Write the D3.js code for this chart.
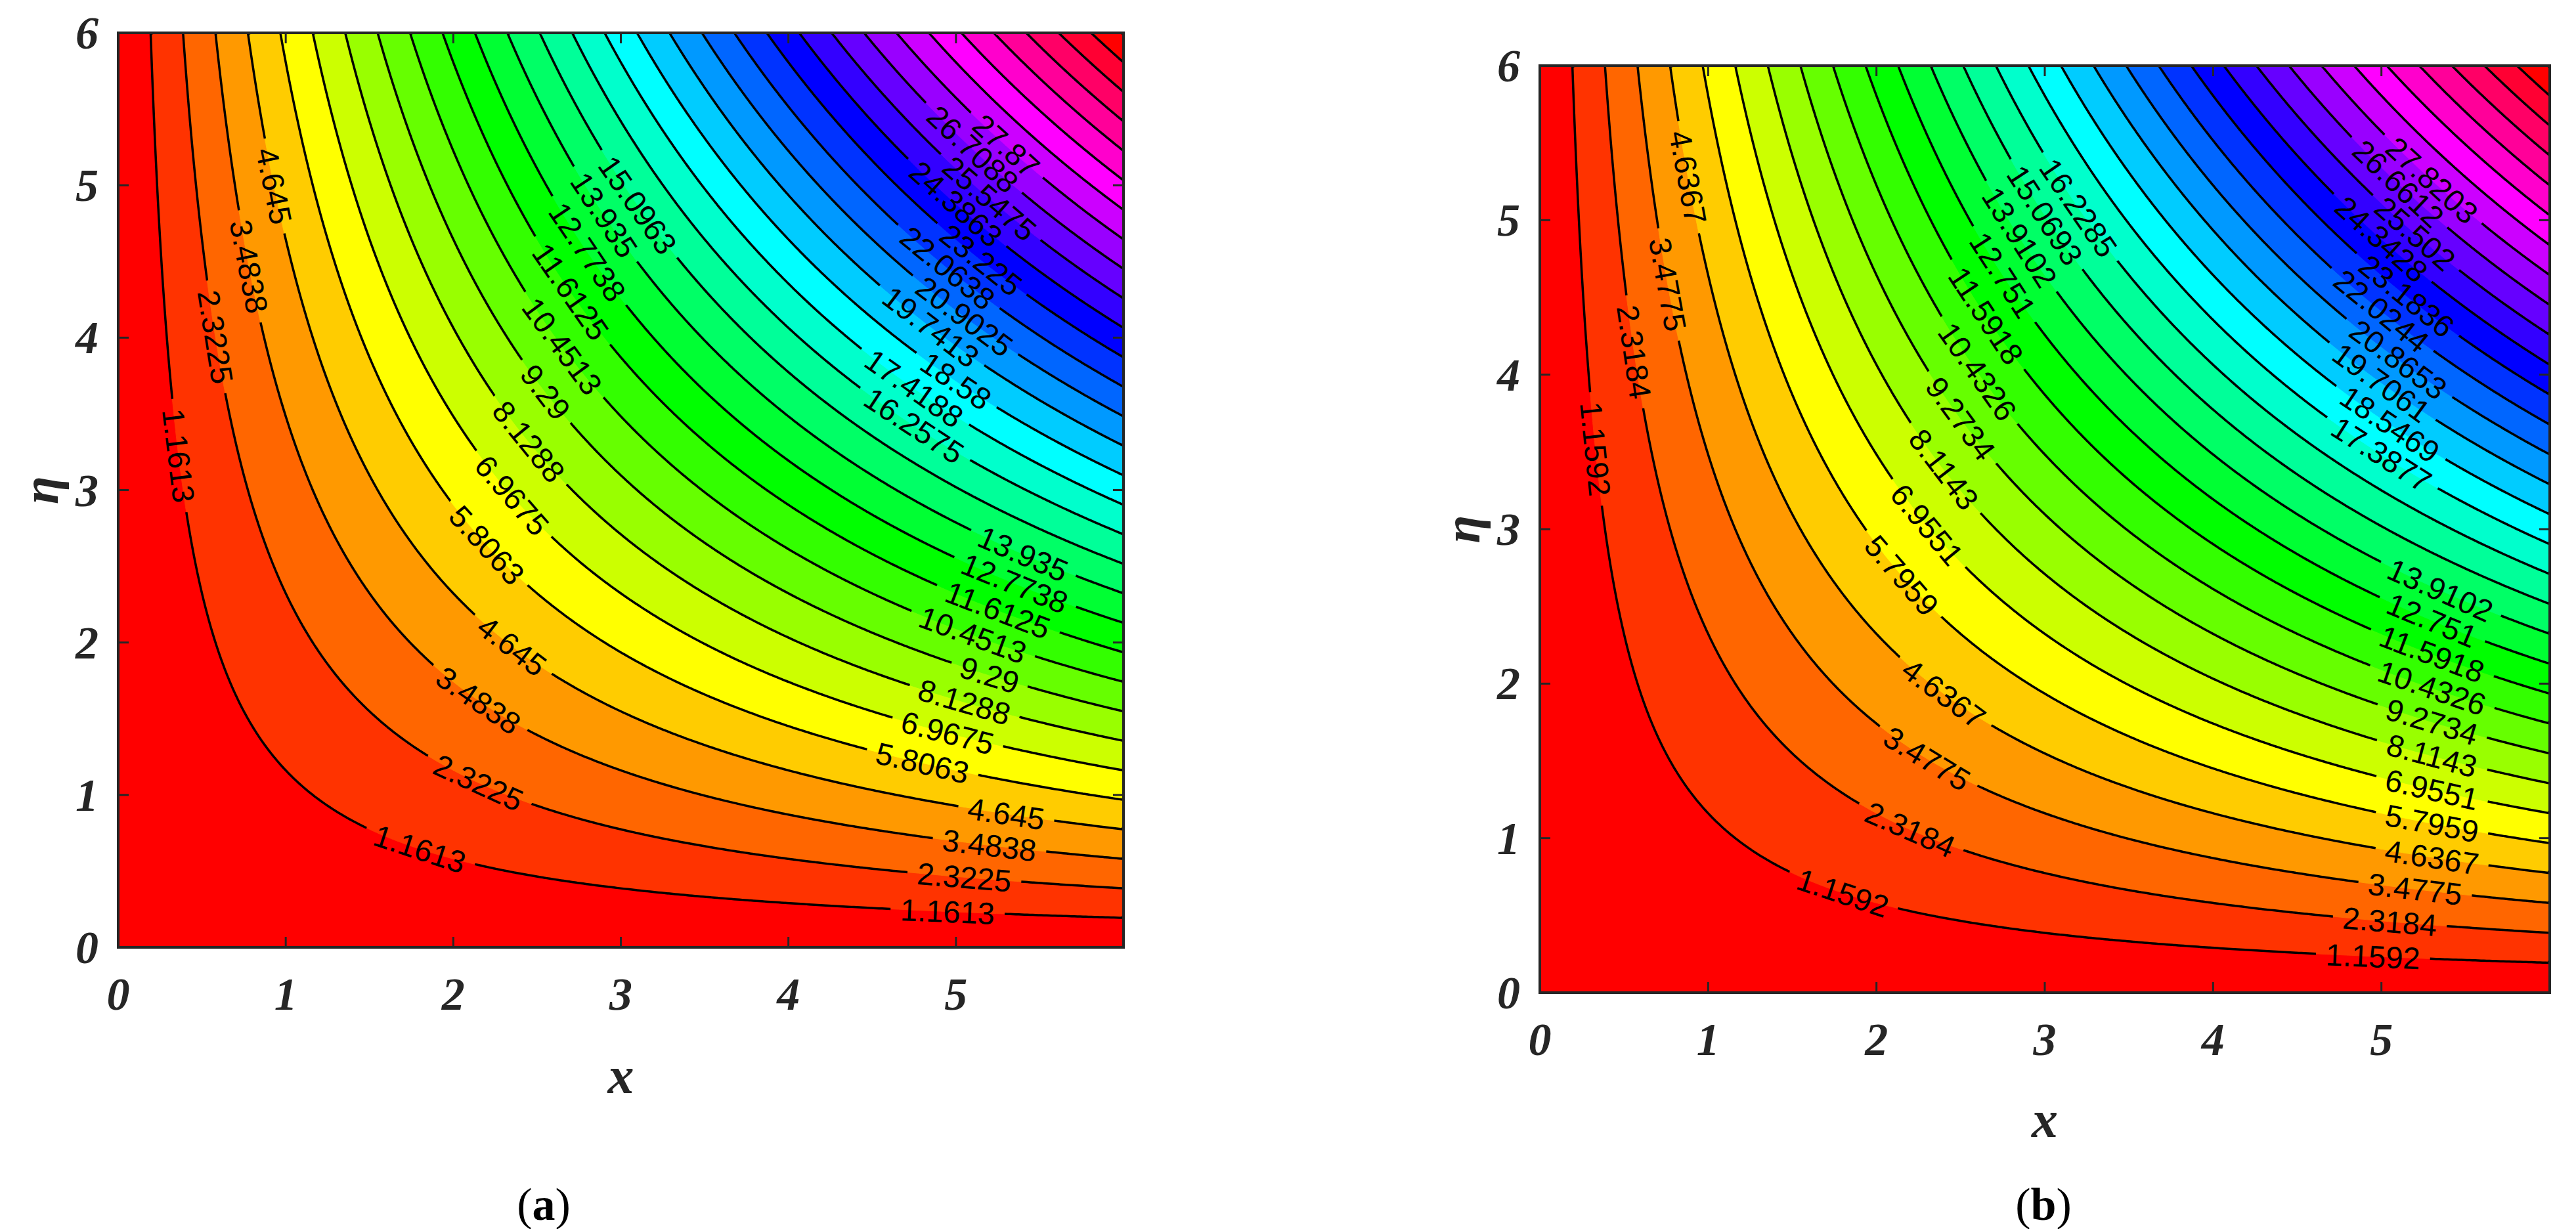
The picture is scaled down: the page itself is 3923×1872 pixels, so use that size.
<!DOCTYPE html>
<html><head><meta charset="utf-8">
<script src="https://cdn.jsdelivr.net/npm/d3@7"></script>
<style>body{margin:0;background:#fff}</style></head>
<body><svg id="c" width="3923" height="1872"></svg>
<script>
const xTicks=[0,1,2,3,4,5];
const yTicks=[0,1,2,3,4,5,6];
const levelsA=[1.1613,2.3225,3.4838,4.645,5.8063,6.9675,8.1288,9.29,10.4513,11.6125,12.7738,13.935,15.0963,16.2575,17.4188,18.58,19.7413,20.9025,22.0638,23.225,24.3863,25.5475,26.7088,27.87,29.0313,30.1925,31.3538,32.515,33.6763,34.8375];
const levelsB=[1.1592,2.3184,3.4775,4.6367,5.7959,6.9551,8.1143,9.2734,10.4326,11.5918,12.751,13.9102,15.0693,16.2285,17.3877,18.5469,19.7061,20.8653,22.0244,23.1836,24.3428,25.502,26.6612,27.8203,28.9795,30.1387,31.2979,32.457,33.6162,34.7754];
// label placements: [level index, x position]
const labelsA=[[0,0.36],[1,0.58],[2,0.78],[3,0.93],
 [4,2.2],[5,2.35],[6,2.45],[7,2.55],[8,2.65],[9,2.7],[10,2.8],[11,2.9],[12,3.1],
 [0,1.8],[1,2.15],[2,2.15],[3,2.35],
 [0,4.95],[1,5.05],[2,5.2],[3,5.3],[4,4.8],[5,4.95],[6,5.05],[7,5.2],[8,5.1],[9,5.25],[10,5.35],[11,5.4],
 [13,4.75],[14,4.75],[15,5.0],[16,4.85],[17,5.05],[18,4.95],[19,5.15],[20,5.0],[21,5.2],[22,5.1],[23,5.3]];
const labelsB=[[0,0.33],[1,0.56],[2,0.76],[3,0.88],
 [4,2.15],[5,2.3],[6,2.4],[7,2.5],[8,2.6],[9,2.65],[10,2.75],[11,2.85],[12,3.0],[13,3.2],
 [0,1.8],[1,2.2],[2,2.3],[3,2.4],
 [0,4.95],[1,5.05],[2,5.2],[3,5.3],[4,5.3],[5,5.3],[6,5.3],[7,5.3],[8,5.3],[9,5.3],[10,5.3],[11,5.35],
 [14,5.0],[15,5.05],[16,5.0],[17,5.1],[18,5.0],[19,5.15],[20,5.0],[21,5.2],[22,5.1],[23,5.3]];
const fieldMaxA=36.0, fieldMaxB=35.94;

const svg=d3.select("#c");
function panel(id,L,R,T,B,levels,labels,fmax,xlabY,tag,tagX){
  const xs=d3.scaleLinear([0,6],[L,R]), ys=d3.scaleLinear([0,6],[B,T]);
  const n=360, vals=new Array(n*n);
  for(let j=0;j<n;j++)for(let i=0;i<n;i++){const x=(i+0.5)/n*6,y=(j+0.5)/n*6;vals[j*n+i]=fmax*x*y/36;}
  const proj=d3.geoTransform({point(x,y){this.stream.point(xs(x/n*6),ys(y/n*6));}});
  const path=d3.geoPath(proj);
  const g=svg.append("g");
  g.append("clipPath").attr("id","cl"+id).append("rect").attr("x",L).attr("y",T).attr("width",R-L).attr("height",B-T);
  const gc=g.append("g").attr("clip-path",`url(#cl${id})`);
  const bands=d3.contours().size([n,n]).thresholds([-1,...levels])(vals);
  gc.selectAll("path.b").data(bands).join("path").attr("d",path)
    .attr("fill",(d,i)=>d3.hsl(i*12,1,0.5).formatHex()).attr("stroke",(d,i)=>d3.hsl(i*12,1,0.5).formatHex()).attr("stroke-width",1);
  const lab=labels.map(([k,x])=>{const c=levels[k]*36/fmax;const y=c/x;
    const e=0.02,p1=[xs(x-e),ys(c/(x-e))],p2=[xs(x+e),ys(c/(x+e))];
    let a=Math.atan2(p2[1]-p1[1],p2[0]-p1[0])*180/Math.PI;
    return {t:String(levels[k]),px:xs(x),py:ys(y),a};});
  const m=g.append("mask").attr("id","m"+id);
  m.append("rect").attr("x",0).attr("y",0).attr("width",3923).attr("height",1872).attr("fill","#fff");
  const fs=47;
  m.selectAll("rect.k").data(lab).join("rect").attr("x",d=>-d.t.length*fs*0.28-8).attr("y",-fs*0.4)
    .attr("width",d=>d.t.length*fs*0.56+16).attr("height",fs*0.8).attr("fill","#000")
    .attr("transform",d=>`translate(${d.px},${d.py}) rotate(${d.a})`);
  const lines=d3.contours().size([n,n]).thresholds(levels)(vals);
  gc.append("g").attr("mask",`url(#m${id})`).selectAll("path").data(lines).join("path").attr("d",path)
    .attr("fill","none").attr("stroke","#000").attr("stroke-width",3.5);
  gc.selectAll("text.l").data(lab).join("text").attr("font-family","Liberation Sans, Arial").attr("font-size",fs)
    .attr("text-anchor","middle").attr("dominant-baseline","central")
    .attr("transform",d=>`translate(${d.px},${d.py}) rotate(${d.a})`).text(d=>d.t);
  const ax="#262626", tl=16;
  g.append("rect").attr("x",L).attr("y",T).attr("width",R-L).attr("height",B-T).attr("fill","none").attr("stroke",ax).attr("stroke-width",4);
  xTicks.concat([6]).forEach(v=>{g.append("line").attr("x1",xs(v)).attr("x2",xs(v)).attr("y1",B).attr("y2",B-tl).attr("stroke",ax).attr("stroke-width",3);
    g.append("line").attr("x1",xs(v)).attr("x2",xs(v)).attr("y1",T).attr("y2",T+tl).attr("stroke",ax).attr("stroke-width",3);});
  yTicks.forEach(v=>{g.append("line").attr("y1",ys(v)).attr("y2",ys(v)).attr("x1",L).attr("x2",L+tl).attr("stroke",ax).attr("stroke-width",3);
    g.append("line").attr("y1",ys(v)).attr("y2",ys(v)).attr("x1",R).attr("x2",R-tl).attr("stroke",ax).attr("stroke-width",3);});
  const tf="Liberation Serif, Times New Roman, serif";
  g.selectAll("text.xt").data(xTicks).join("text").attr("x",d=>xs(d)).attr("y",B+95).attr("text-anchor","middle")
    .attr("font-family",tf).attr("font-weight","bold").attr("font-style","italic").attr("font-size",70).attr("fill",ax).text(d=>d);
  g.selectAll("text.yt").data(yTicks).join("text").attr("x",L-30).attr("y",d=>ys(d)+24).attr("text-anchor","end")
    .attr("font-family",tf).attr("font-weight","bold").attr("font-style","italic").attr("font-size",70).attr("fill",ax).text(d=>d);
  g.append("text").attr("x",(L+R)/2).attr("y",xlabY).attr("text-anchor","middle").attr("font-family",tf).attr("font-weight","bold")
    .attr("font-style","italic").attr("font-size",80).attr("fill",ax).text("x");
  g.append("text").attr("transform",`translate(${L-92},${(T+B)/2}) rotate(-90)`).attr("text-anchor","middle").attr("font-family",tf)
    .attr("font-weight","bold").attr("font-style","italic").attr("font-size",78).attr("fill",ax).text("η");
  const tt=g.append("text").attr("x",tagX).attr("y",1858).attr("text-anchor","middle").attr("font-family",tf).attr("font-size",70);
  tt.append("tspan").text("(");tt.append("tspan").attr("font-weight","bold").text(tag);tt.append("tspan").text(")");
}
panel("a",180,1711,50,1443,levelsA,labelsA,fieldMaxA,1665,"a",828);
panel("b",2345,3883,100,1512,levelsB,labelsB,fieldMaxB,1732,"b",3112);
</script></body></html>
